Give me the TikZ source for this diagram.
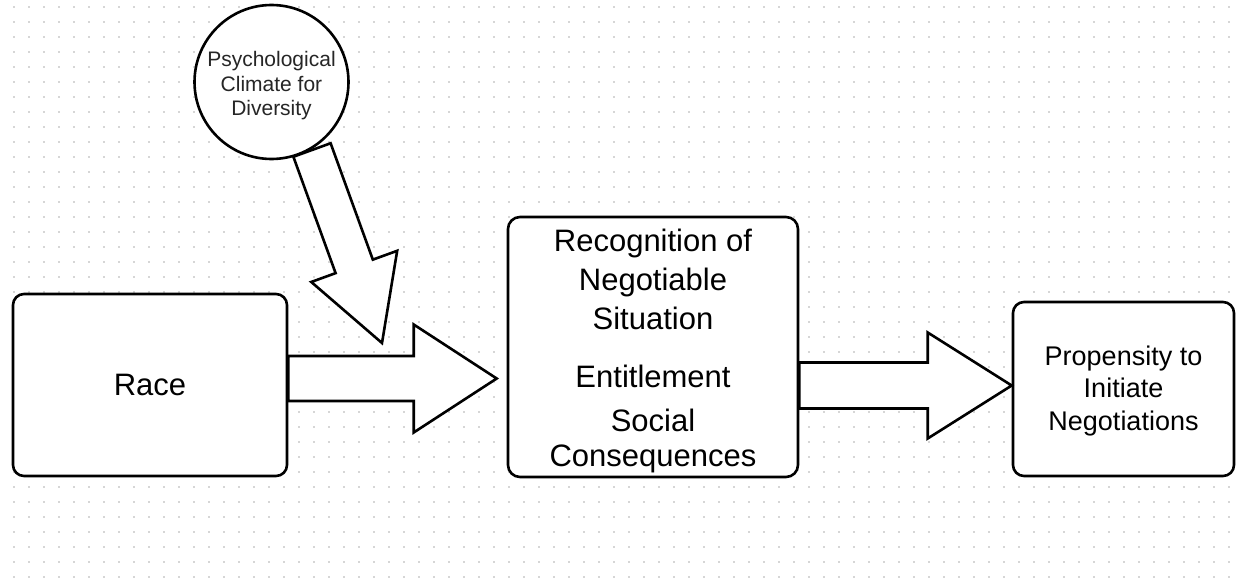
\documentclass[tikz,border=0pt]{standalone}
\usepackage{fontspec}
\setmainfont{Liberation Sans}
\usetikzlibrary{calc}
\tikzset{
  box/.style={draw=black, line width=2.6pt, rounded corners=11pt, fill=white, align=center, inner sep=0pt},
  circ/.style={draw=black, line width=2.6pt, circle, fill=white, align=center, inner sep=0pt},
  barrow/.style={draw=black, line width=2.6pt, fill=white, line join=miter},
  griddot/.style={fill=black!16, draw=none}
}
% #1 start, #2 end, #3 shaft half width, #4 head half width, #5 head length
\newcommand\blockarr[5]{%
  \draw[barrow]
    ($(#1)!#3!90:(#2)$) --
    ($($(#2)!#5!(#1)$)!#3!-90:(#1)$) --
    ($($(#2)!#5!(#1)$)!#4!-90:(#1)$) --
    (#2) --
    ($($(#2)!#5!(#1)$)!#4!90:(#1)$) --
    ($($(#2)!#5!(#1)$)!#3!90:(#1)$) --
    ($(#1)!#3!-90:(#2)$) -- cycle;}
\begin{document}
\begin{tikzpicture}[x=1pt, y=-1pt]
\useasboundingbox (0,0) rectangle (1236,586);
\fill[white] (0,0) rectangle (1236,586);
% dot grid
\foreach \gx in {14,29,...,1236}{
  \foreach \gy in {7,22,...,586}{
    \fill[griddot] (\gx-1,\gy-1) rectangle (\gx+1,\gy+1);
  }
}
% nodes
\node[box, minimum width=274pt, minimum height=182pt, font=\fontsize{31}{36}\selectfont] (race) at (150,385) {Race};
\node[box, minimum width=290pt, minimum height=260pt, rounded corners=12pt, font=\fontsize{31}{38}\selectfont] (mid) at (653,347)
  {\rule{0pt}{31pt}Recognition of\\[1pt]Negotiable\\[1pt]Situation\\[20pt]Entitlement\\[6pt]Social\\[-3pt]Consequences};
\node[box, minimum width=221pt, minimum height=174pt, font=\fontsize{27}{32.5}\selectfont] (prop) at (1123.5,389)
  {\rule{0pt}{23pt}Propensity to\\Initiate\\Negotiations};
% arrow coordinates
\coordinate (a1s) at ($(race.east)+(0,-6.5)$);
\coordinate (a1e) at ($(a1s -| mid.west)+(-10,0)$);
\coordinate (a2s) at ($(mid.east |- prop.west)+(0,-3.5)$);
\coordinate (a2e) at (a2s -| prop.west);
\blockarr{a1s}{a1e}{22.5pt}{54pt}{83pt}
\blockarr{a2s}{a2e}{23pt}{53pt}{84pt}
% circle
\node[circ, minimum size=154pt, font=\fontsize{21}{24.5}\selectfont, text=black!85] (clim) at (271.5,82)
  {\rule{0pt}{23pt}Psychological\\Climate for\\Diversity};
\coordinate (a3s) at ($(clim.center)+(40.5,68)$);
\coordinate (a3e) at (382,343);
\blockarr{a3s}{a3e}{19.8pt}{45.7pt}{81.5pt}
\end{tikzpicture}
\end{document}
